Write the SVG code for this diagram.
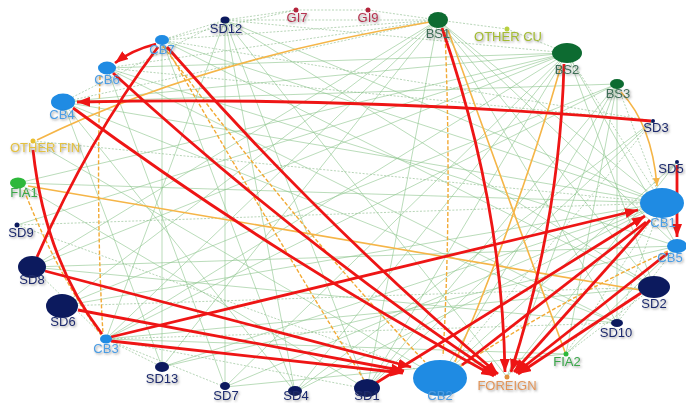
<svg xmlns="http://www.w3.org/2000/svg" width="686" height="403" viewBox="0 0 686 403">
<defs>
<marker id="ar" markerUnits="userSpaceOnUse" markerWidth="14" markerHeight="10" refX="13" refY="5" orient="auto">
<path d="M0,0 L13,5 L0,10 Z" fill="#ee1515"/>
</marker>
<marker id="ao" markerUnits="userSpaceOnUse" markerWidth="9" markerHeight="7" refX="8" refY="3.5" orient="auto">
<path d="M0,0 L8,3.5 L0,7 Z" fill="#f5b547"/>
</marker>
<filter id="sh" x="-20%" y="-40%" width="140%" height="180%">
<feDropShadow dx="1.2" dy="1.2" stdDeviation="0.9" flood-color="#444" flood-opacity="0.55"/>
</filter>
</defs>
<style>
.g{stroke:#8cc48c;stroke-width:0.8;fill:none;opacity:0.75}
.gd{stroke:#86b986;stroke-width:0.8;fill:none;stroke-dasharray:2 1.6;opacity:0.75}
.o{stroke:#f5b547;stroke-width:1.6;fill:none}
.od{stroke:#f2aa35;stroke-width:1.4;fill:none;stroke-dasharray:4 2}
.r{stroke:#ee1515;stroke-width:2.8;fill:none}
.ra{stroke:#ee1515;stroke-width:2.8;fill:none;marker-end:url(#ar)}
text{font-family:"Liberation Sans",Arial,sans-serif;font-size:13px;text-anchor:middle;filter:url(#sh)}
.cb{fill:#1f8be3}.sd{fill:#0c1a5e}.bs{fill:#0d6b31}.gi{fill:#b4243c}
.tcb{fill:#4c9de3}.tsd{fill:#1b2a6e}.tbs{fill:#3f6e58}.tgi{fill:#b5334f}
</style>
<rect width="686" height="403" fill="#ffffff"/>
<g id="connectors">
<g id="green">
<line class="gd" x1="225" y1="20" x2="296" y2="10"/>
<line class="gd" x1="296" y1="10" x2="368" y2="10"/>
<line class="gd" x1="368" y1="10" x2="438" y2="20"/>
<line class="gd" x1="225" y1="20" x2="438" y2="20"/>
<line class="gd" x1="162" y1="40" x2="225" y2="20"/>
<line class="gd" x1="162" y1="40" x2="296" y2="10"/>
<line class="gd" x1="438" y1="20" x2="507" y2="29"/>
<line class="gd" x1="162" y1="40" x2="438" y2="20"/>
<line class="gd" x1="107" y1="68" x2="438" y2="20"/>
<line class="g" x1="225" y1="20" x2="295" y2="392"/>
<line class="g" x1="225" y1="20" x2="225" y2="387"/>
<line class="g" x1="225" y1="20" x2="367" y2="389"/>
<line class="g" x1="225" y1="20" x2="662" y2="203"/>
<line class="g" x1="225" y1="20" x2="654" y2="287"/>
<line class="gd" x1="225" y1="20" x2="63" y2="102"/>
<line class="g" x1="225" y1="20" x2="106" y2="339"/>
<line class="g" x1="225" y1="20" x2="507" y2="377"/>
<line class="gd" x1="225" y1="20" x2="567" y2="53"/>
<line class="gd" x1="63" y1="102" x2="438" y2="20"/>
<line class="g" x1="438" y1="20" x2="32" y2="267"/>
<line class="g" x1="438" y1="20" x2="62" y2="306"/>
<line class="g" x1="438" y1="20" x2="106" y2="339"/>
<line class="g" x1="438" y1="20" x2="162" y2="367"/>
<line class="g" x1="438" y1="20" x2="367" y2="389"/>
<line class="g" x1="438" y1="20" x2="662" y2="203"/>
<line class="g" x1="438" y1="20" x2="654" y2="287"/>
<line class="g" x1="438" y1="20" x2="617" y2="323"/>
<line class="g" x1="438" y1="20" x2="677" y2="246"/>
<line class="g" x1="567" y1="53" x2="63" y2="102"/>
<line class="g" x1="567" y1="53" x2="107" y2="68"/>
<line class="g" x1="567" y1="53" x2="18" y2="183"/>
<line class="g" x1="567" y1="53" x2="17" y2="225"/>
<line class="g" x1="567" y1="53" x2="32" y2="267"/>
<line class="g" x1="567" y1="53" x2="106" y2="339"/>
<line class="g" x1="567" y1="53" x2="225" y2="387"/>
<line class="g" x1="567" y1="53" x2="295" y2="392"/>
<line class="gd" x1="567" y1="53" x2="662" y2="203"/>
<line class="g" x1="567" y1="53" x2="677" y2="246"/>
<line class="g" x1="567" y1="53" x2="654" y2="287"/>
<line class="gd" x1="507" y1="29" x2="567" y2="53"/>
<line class="g" x1="617" y1="84" x2="63" y2="102"/>
<line class="g" x1="617" y1="84" x2="106" y2="339"/>
<line class="g" x1="617" y1="84" x2="62" y2="306"/>
<line class="g" x1="617" y1="84" x2="367" y2="389"/>
<line class="g" x1="617" y1="84" x2="566" y2="354"/>
<line class="g" x1="617" y1="84" x2="617" y2="323"/>
<line class="gd" x1="162" y1="40" x2="653" y2="121"/>
<line class="g" x1="162" y1="40" x2="662" y2="203"/>
<line class="g" x1="162" y1="40" x2="654" y2="287"/>
<line class="g" x1="162" y1="40" x2="295" y2="392"/>
<line class="g" x1="162" y1="40" x2="162" y2="367"/>
<line class="gd" x1="107" y1="68" x2="653" y2="121"/>
<line class="g" x1="107" y1="68" x2="677" y2="246"/>
<line class="g" x1="107" y1="68" x2="617" y2="323"/>
<line class="g" x1="107" y1="68" x2="225" y2="387"/>
<line class="g" x1="63" y1="102" x2="662" y2="203"/>
<line class="g" x1="63" y1="102" x2="617" y2="323"/>
<line class="g" x1="63" y1="102" x2="295" y2="392"/>
<line class="g" x1="63" y1="102" x2="162" y2="367"/>
<line class="gd" x1="33" y1="141" x2="662" y2="203"/>
<line class="g" x1="33" y1="141" x2="440" y2="378"/>
<line class="g" x1="18" y1="183" x2="662" y2="203"/>
<line class="g" x1="18" y1="183" x2="367" y2="389"/>
<line class="gd" x1="17" y1="225" x2="662" y2="203"/>
<line class="gd" x1="17" y1="225" x2="440" y2="378"/>
<line class="g" x1="32" y1="267" x2="677" y2="246"/>
<line class="g" x1="32" y1="267" x2="617" y2="323"/>
<line class="g" x1="62" y1="306" x2="662" y2="203"/>
<line class="gd" x1="62" y1="306" x2="654" y2="287"/>
<line class="g" x1="106" y1="339" x2="654" y2="287"/>
<line class="gd" x1="106" y1="339" x2="617" y2="323"/>
<line class="g" x1="106" y1="339" x2="566" y2="354"/>
<line class="gd" x1="106" y1="339" x2="162" y2="367"/>
<line class="gd" x1="106" y1="339" x2="225" y2="387"/>
<line class="gd" x1="106" y1="339" x2="367" y2="389"/>
<line class="g" x1="162" y1="367" x2="662" y2="203"/>
<line class="g" x1="162" y1="367" x2="677" y2="246"/>
<line class="g" x1="225" y1="387" x2="662" y2="203"/>
<line class="g" x1="225" y1="387" x2="566" y2="354"/>
<line class="g" x1="295" y1="392" x2="662" y2="203"/>
<line class="g" x1="295" y1="392" x2="653" y2="121"/>
<line class="g" x1="367" y1="389" x2="653" y2="121"/>
<line class="g" x1="367" y1="389" x2="567" y2="53"/>
<line class="gd" x1="440" y1="378" x2="653" y2="121"/>
<line class="g" x1="440" y1="378" x2="617" y2="84"/>
<line class="g" x1="440" y1="378" x2="677" y2="162"/>
<line class="g" x1="507" y1="377" x2="677" y2="162"/>
<line class="g" x1="507" y1="377" x2="617" y2="84"/>
<line class="gd" x1="662" y1="203" x2="566" y2="354"/>
<line class="gd" x1="662" y1="203" x2="617" y2="323"/>
<line class="gd" x1="677" y1="246" x2="617" y2="323"/>
<line class="gd" x1="654" y1="287" x2="566" y2="354"/>
<line class="g" x1="677" y1="246" x2="566" y2="354"/>
<line class="gd" x1="32" y1="267" x2="106" y2="339"/>
<line class="gd" x1="617" y1="84" x2="662" y2="203"/>
</g>
<g id="orange">
<path class="o" d="M37,140 Q200,60 430,22"/>
<path class="o" d="M448,30 Q505,190 565,352"/>
<path class="o" d="M561,66 Q520,210 455,362"/>
<path class="o" d="M621,92 Q652,125 657,186" marker-end="url(#ao)"/>
<path class="o" d="M28,186 L640,290"/>
<path class="od" d="M445,32 Q452,200 443,356"/>
<path class="od" d="M100,76 Q96,220 103,334"/>
<path class="od" d="M24,190 Q55,270 101,335"/>
<path class="od" d="M166,47 Q260,210 364,380"/>
<path class="od" d="M163,46 Q300,230 425,362"/>
<path class="od" d="M455,370 Q560,300 670,250"/>
</g>
<g id="red">
<path class="ra" d="M156,44 Q132,50 115,63"/>
<path class="ra" d="M651,121 Q364,96 77,102"/>
<path class="r" d="M158,47 Q88,140 37,257"/>
<path class="r" d="M33,150 Q45,260 102,334"/>
<path class="ra" d="M167,47 Q321,223 498,374"/>
<path class="ra" d="M113,73 Q295,240 496,375"/>
<path class="ra" d="M73,108 Q276,257 494,376"/>
<path class="ra" d="M442,28 Q502,201 505,372"/>
<path class="ra" d="M564,64 Q560,219 511,372"/>
<path class="ra" d="M45,271 L411,367"/>
<path class="ra" d="M78,310 L404,371"/>
<path class="ra" d="M111,341 L403,373"/>
<path class="ra" d="M111,337 L638,210"/>
<path class="ra" d="M376,383 L645,216"/>
<path class="r" d="M462,365 L646,222"/>
<path class="ra" d="M650,220 L514,372"/>
<path class="ra" d="M668,253 L516,373"/>
<path class="ra" d="M641,293 L518,374"/>
<path class="ra" d="M677,165 L677,237"/>
</g>
</g>
<g id="nodes">
<g id="SD12"><ellipse class="sd" cx="225" cy="20" rx="4.5" ry="3.5"/><text class="tsd" x="226" y="33">SD12</text></g>
<g id="GI7"><circle class="gi" cx="296" cy="10" r="2.5"/><text class="tgi" x="297" y="22">GI7</text></g>
<g id="GI9"><circle class="gi" cx="368" cy="10" r="2.5"/><text class="tgi" x="368" y="22">GI9</text></g>
<g id="BS1"><ellipse class="bs" cx="438" cy="20" rx="10" ry="8"/><text class="tbs" x="438" y="38">BS1</text></g>
<g id="OTHER_CU"><circle cx="507" cy="29" r="2.5" fill="#b8d040"/><text x="508" y="41" fill="#a3ba32">OTHER CU</text></g>
<g id="BS2"><ellipse class="bs" cx="567" cy="53" rx="15" ry="10"/><text class="tbs" x="567" y="74">BS2</text></g>
<g id="BS3"><ellipse class="bs" cx="617" cy="84" rx="7" ry="5"/><text class="tbs" x="618" y="98">BS3</text></g>
<g id="SD3"><circle class="sd" cx="653" cy="121" r="2"/><text class="tsd" x="656" y="132">SD3</text></g>
<g id="SD5"><circle class="sd" cx="677" cy="162" r="2"/><text class="tsd" x="671" y="173">SD5</text></g>
<g id="CB1"><ellipse class="cb" cx="662" cy="203" rx="22" ry="15"/><text class="tcb" x="663" y="227">CB1</text></g>
<g id="CB5"><ellipse class="cb" cx="677" cy="246" rx="10" ry="7"/><text class="tcb" x="670" y="262">CB5</text></g>
<g id="SD2"><ellipse class="sd" cx="654" cy="287" rx="16" ry="11"/><text class="tsd" x="654" y="308">SD2</text></g>
<g id="SD10"><ellipse class="sd" cx="617" cy="323" rx="6" ry="4"/><text class="tsd" x="616" y="337">SD10</text></g>
<g id="FIA2"><circle cx="566" cy="354" r="2.5" fill="#2db83a"/><text x="567" y="366" fill="#3aa64a">FIA2</text></g>
<g id="FOREIGN"><circle cx="507" cy="377" r="2.5" fill="#e0903a"/><text x="507" y="390" fill="#e0955a">FOREIGN</text></g>
<g id="CB2"><ellipse class="cb" cx="440" cy="378" rx="27" ry="18"/><text class="tcb" x="440" y="400">CB2</text></g>
<g id="SD1"><ellipse class="sd" cx="367" cy="388" rx="13" ry="9"/><text class="tsd" x="367" y="400">SD1</text></g>
<g id="SD4"><ellipse class="sd" cx="295" cy="391" rx="7" ry="5"/><text class="tsd" x="296" y="400">SD4</text></g>
<g id="SD7"><ellipse class="sd" cx="225" cy="386" rx="5" ry="4"/><text class="tsd" x="226" y="400">SD7</text></g>
<g id="SD13"><ellipse class="sd" cx="162" cy="367" rx="7" ry="5"/><text class="tsd" x="162" y="383">SD13</text></g>
<g id="CB3"><ellipse class="cb" cx="106" cy="339" rx="6" ry="4.5"/><text class="tcb" x="106" y="353">CB3</text></g>
<g id="SD6"><ellipse class="sd" cx="62" cy="306" rx="16" ry="12"/><text class="tsd" x="63" y="326">SD6</text></g>
<g id="SD8"><ellipse class="sd" cx="32" cy="267" rx="14" ry="11"/><text class="tsd" x="32" y="284">SD8</text></g>
<g id="SD9"><circle class="sd" cx="17" cy="225" r="2.5"/><text class="tsd" x="21" y="237">SD9</text></g>
<g id="FIA1"><ellipse cx="18" cy="183" rx="8" ry="5.5" fill="#2db83a"/><text x="24" y="197" fill="#3aa64a">FIA1</text></g>
<g id="OTHER_FIN"><circle cx="33" cy="141" r="2.5" fill="#e8c030"/><text x="45" y="152" fill="#e3c040">OTHER FIN</text></g>
<g id="CB4"><ellipse class="cb" cx="63" cy="102" rx="12" ry="8.5"/><text class="tcb" x="62" y="119">CB4</text></g>
<g id="CB6"><ellipse class="cb" cx="107" cy="68" rx="9" ry="6.5"/><text class="tcb" x="107" y="84">CB6</text></g>
<g id="CB7"><ellipse class="cb" cx="162" cy="40" rx="7" ry="5"/><text class="tcb" x="162" y="54">CB7</text></g>
</g>
</svg>
